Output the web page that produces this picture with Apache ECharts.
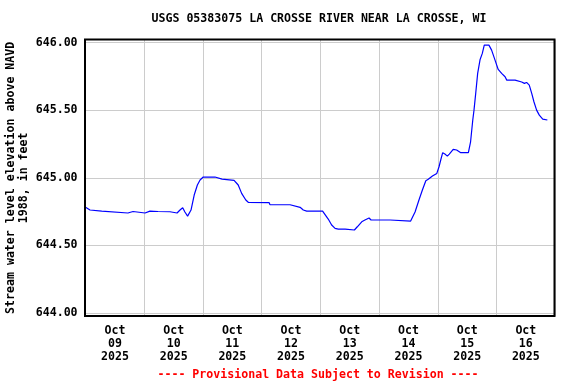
<!DOCTYPE html>
<html>
<head>
<meta charset="utf-8">
<script src="https://cdn.jsdelivr.net/npm/echarts@6/dist/echarts.min.js"></script>
<style>html,body{margin:0;padding:0;background:#fff}#c{width:576px;height:384px}</style>
</head>
<body>
<div id="c"></div>
<script>
// Hours since Oct 09 2025 00:00
const hours = [0,1.8,6.6,7.1,17.3,17.9,19.4,24.3,24.8,26.3,26.8,29.6,34.5,34.9,37.4,38.6,39.7,40.6,41.7,43.1,44.4,45.7,46.8,48.1,52.9,53.3,55.8,56.2,60.7,62.4,63.8,65.5,66.5,75.0,75.4,83.6,87.7,89.0,90.4,96.9,99.2,100.6,102.0,103.3,106.1,106.5,109.9,111.1,112.9,114.2,115.9,116.7,124.5,124.9,132.9,134.7,136.3,137.7,139.1,140.1,141.8,143.6,144.5,145.2,146.0,146.9,147.9,148.7,150.3,151.7,153.4,156.5,157.4,158.3,158.8,159.5,160.3,161.3,162.2,163.0,164.9,166.0,167.4,168.7,170.1,171.5,172.2,175.6,178.3,179.4,180.3,181.4,182.4,183.3,184.4,185.5,186.9,188.8];
const elevation = [644.782,644.762,644.754,644.740,644.740,644.747,644.751,644.740,644.751,644.754,644.745,644.751,644.749,644.740,644.740,644.762,644.779,644.747,644.717,644.762,644.873,644.947,644.984,645.006,645.006,644.993,644.991,644.982,644.982,644.947,644.885,644.836,644.819,644.817,644.801,644.801,644.782,644.762,644.754,644.754,644.695,644.651,644.626,644.621,644.621,644.614,644.614,644.638,644.675,644.688,644.703,644.688,644.688,644.680,644.680,644.747,644.836,644.910,644.979,644.989,645.013,645.033,645.082,645.132,645.186,645.176,645.161,645.176,645.211,645.206,645.186,645.186,645.267,645.428,645.501,645.625,645.773,645.876,645.921,645.982,645.982,645.945,645.871,645.802,645.773,645.748,645.723,645.723,645.709,645.699,645.706,645.686,645.625,645.563,645.501,645.464,645.435,645.428];
const dayLabels = ['Oct\n09\n2025','Oct\n10\n2025','Oct\n11\n2025','Oct\n12\n2025','Oct\n13\n2025','Oct\n14\n2025','Oct\n15\n2025','Oct\n16\n2025'];
const yTicks = [644.0, 644.5, 645.0, 645.5, 646.0];
const titleText = 'USGS 05383075 LA CROSSE RIVER NEAR LA CROSSE, WI';
const yName = 'Stream water level elevation above NAVD\n1988, in feet';
const footer = '---- Provisional Data Subject to Revision ----';

const FONT = '"DejaVu Sans Mono", monospace';
const chart = echarts.init(document.getElementById('c'), null, {renderer: 'canvas'});
const L = 85.6, R = 576 - 555.2;
const txt = {fontFamily: FONT, fontWeight: 'bold', fontSize: 11.6, color: '#000'};
chart.setOption({
  animation: false,
  backgroundColor: '#fff',
  grid: [
    {left: L, right: R, top: 42.7, bottom: 71, containLabel: false, outerBoundsMode: 'none'},
    {left: L, right: R, top: 39.5, bottom: 68, containLabel: false, outerBoundsMode: 'none'}
  ],
  xAxis: [
    {type: 'value', gridIndex: 0, min: 0, max: 192, interval: 24,
     axisLine: {show: false}, axisTick: {show: false}, axisLabel: {show: false}, splitLine: {show: false}},
    {type: 'category', gridIndex: 0, position: 'bottom', data: dayLabels, boundaryGap: true,
     axisLine: {show: false}, axisTick: {show: false}, splitLine: {show: false},
     axisLabel: Object.assign({margin: 11, lineHeight: 13, interval: 0}, txt)},
    {type: 'value', gridIndex: 1, min: 0, max: 192, interval: 24,
     axisLine: {show: false}, axisTick: {show: false}, axisLabel: {show: false},
     splitLine: {show: true, lineStyle: {color: '#cccccc', width: 1}}}
  ],
  yAxis: [
    {type: 'value', gridIndex: 0, min: yTicks[0], max: yTicks[yTicks.length - 1], interval: 0.5,
     axisLine: {show: false}, axisTick: {show: false},
     axisLabel: Object.assign({margin: 8, formatter: v => v.toFixed(2)}, txt),
     splitLine: {show: true, lineStyle: {color: '#cccccc', width: 1}},
     name: yName, nameLocation: 'middle', nameRotate: 90, nameGap: 55, nameMoveOverlap: false,
     nameTextStyle: Object.assign({lineHeight: 13, align: 'center'}, txt)},
    {type: 'value', gridIndex: 1, min: 0, max: 1, show: false, splitLine: {show: false}}
  ],
  series: [{
    type: 'line', xAxisIndex: 0, yAxisIndex: 0,
    data: hours.map((h, i) => [h, elevation[i]]),
    showSymbol: false, symbol: 'none',
    lineStyle: {color: '#0000ff', width: 1.2}
  }],
  graphic: [
    {type: 'rect', shape: {x: 85, y: 39.5, width: 469.5, height: 276.5}, style: {fill: 'none', stroke: '#000', lineWidth: 2}, z: 100},
    {type: 'text', x: 319, y: 19,
     style: {text: titleText, textAlign: 'center', textVerticalAlign: 'middle', fontFamily: FONT, fontWeight: 'bold', fontSize: 11.6, fill: '#000'}},
    {type: 'text', x: 318, y: 375,
     style: {text: footer, textAlign: 'center', textVerticalAlign: 'middle', fontFamily: FONT, fontWeight: 'bold', fontSize: 11.6, fill: '#ff0000'}}
  ]
});
</script>
</body>
</html>
